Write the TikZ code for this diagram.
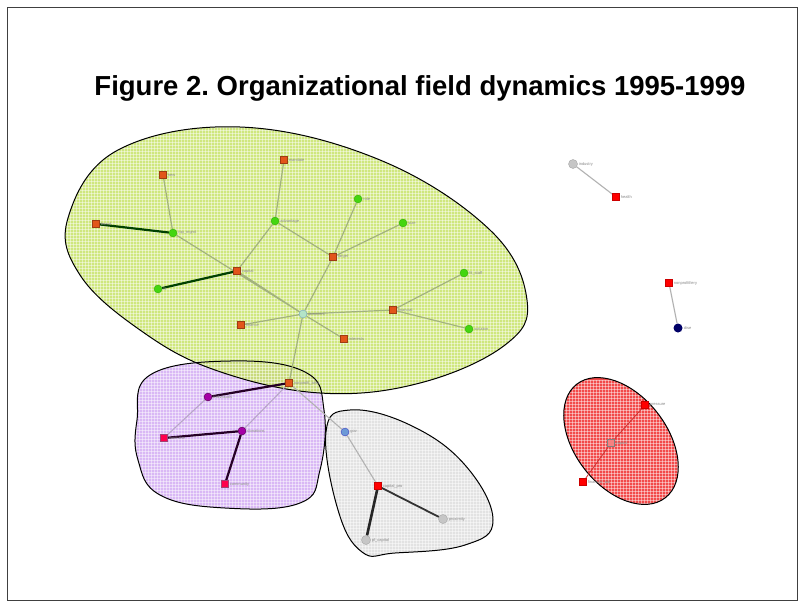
\documentclass[tikz,border=0pt]{standalone}
\usepackage{fontspec}
\setmainfont{Liberation Sans}
\definecolor{gfill}{HTML}{C4E25E}
\definecolor{pfill}{HTML}{D9B8F5}
\definecolor{grfill}{HTML}{E2E2E2}
\definecolor{rfill}{HTML}{F24A4A}
\definecolor{sqorange}{HTML}{E2551A}
\definecolor{nodegreen}{HTML}{44D610}
\definecolor{edgeg}{HTML}{A2B27E}
\definecolor{edgep}{HTML}{B8A6C8}
\definecolor{lblc}{HTML}{8A8A8A}
\pgfdeclarelayer{blobs}
\pgfdeclarelayer{edges}
\pgfsetlayers{blobs,edges,main}
\tikzset{
  blob/.style={draw=black, line width=1pt},
  gridlines/.style={draw=white, line width=0.5pt, opacity=0.45},
  sq/.style={rectangle, draw=sqorange!70!black, fill=sqorange, minimum size=7pt, inner sep=0pt},
  rsq/.style={rectangle, draw=red!80!black, fill=red, minimum size=7pt, inner sep=0pt},
  psq/.style={rectangle, draw=magenta!60!black, fill=red!70!magenta, minimum size=7pt, inner sep=0pt},
  hsq/.style={rectangle, draw=gray, fill=rfill!70!white, minimum size=7pt, inner sep=0pt},
  gc/.style={circle, fill=nodegreen, draw=nodegreen!80!black, minimum size=8pt, inner sep=0pt},
  cc/.style={circle, fill=cyan!25!green!30, draw=cyan!40!gray, minimum size=8pt, inner sep=0pt},
  pc/.style={circle, fill=violet!70!magenta, draw=violet!60!black, minimum size=8pt, inner sep=0pt},
  bc/.style={circle, fill=cyan!50!blue!60, draw=blue!50!gray, minimum size=8pt, inner sep=0pt},
  grc/.style={circle, fill=gray!45, draw=gray!70, minimum size=9pt, inner sep=0pt},
  dbc/.style={circle, fill=blue!40!black, minimum size=9pt, inner sep=0pt},
  lbl/.style={font=\fontsize{4}{4}\selectfont, text=lblc, inner sep=1pt},
  eg/.style={draw=edgeg, line width=1.2pt},
  egk/.style={draw=black!75!green, line width=2.2pt},
  ep/.style={draw=edgep, line width=1.1pt},
  epk/.style={draw=violet!30!black, line width=2.2pt},
  egr/.style={draw=gray!60, line width=1.1pt},
  egrk/.style={draw=black!85, line width=2.6pt},
}
\def\greenblob{plot[smooth cycle, tension=0.65] coordinates {(68,218) (118,150) (240,127) (380,160) (490,230) (527,300) (505,345) (420,383) (320,393) (215,370) (140,330) (80,275)}}
\def\purpleblob{plot[smooth cycle, tension=0.7] coordinates {(137,420) (150,375) (230,361) (305,372) (324,410) (320,470) (300,503) (225,508) (160,495) (138,460)}}
\def\grayblob{plot[smooth cycle, tension=0.7] coordinates {(326,432) (350,410) (410,425) (465,465) (493,520) (465,545) (395,553) (362,552) (338,510)}}
\def\redblob{(621,441) ellipse [x radius=72, y radius=46, rotate=-52]}
\begin{document}
\frenchspacing
\begin{tikzpicture}[x=1pt,y=-1pt]
\useasboundingbox (0,0) rectangle (805,608);
\begin{pgfonlayer}{blobs}
\fill[white] (0,0) rectangle (805,608);
\draw[black!75, line width=1.6pt] (7.5,7.5) rectangle (797.5,600.5);
% blob fills
\fill[pfill] \purpleblob;
\begin{scope}
\clip \purpleblob;
\foreach \i in {130,133,...,330} {\draw[gridlines] (\i,355) -- (\i,512);}
\foreach \j in {355,358,...,512} {\draw[gridlines] (130,\j) -- (330,\j);}
\end{scope}
\fill[grfill] \grayblob;
\begin{scope}
\clip \grayblob;
\foreach \i in {320,323,...,500} {\draw[gridlines] (\i,405) -- (\i,558);}
\foreach \j in {405,408,...,558} {\draw[gridlines] (320,\j) -- (500,\j);}
\end{scope}
\fill[gfill, fill opacity=0.8] \greenblob;
\begin{scope}
\clip \greenblob;
\foreach \i in {64,67,...,532} {\draw[gridlines] (\i,124) -- (\i,397);}
\foreach \j in {124,127,...,397} {\draw[gridlines] (64,\j) -- (532,\j);}
\end{scope}
\fill[rfill] \redblob;
\begin{scope}
\clip \redblob;
\foreach \i in {560,563,...,685} {\draw[gridlines] (\i,380) -- (\i,505);}
\foreach \j in {380,383,...,505} {\draw[gridlines] (560,\j) -- (685,\j);}
\end{scope}
% blob outlines
\draw[blob] \purpleblob;
\draw[blob] \grayblob;
\draw[blob] \greenblob;
\draw[blob] \redblob;
\end{pgfonlayer}

\node[font=\bfseries\fontsize{27.5}{30}\selectfont] (title) at (420,88) {Figure 2. Organizational field dynamics 1995-1999};

% nodes: green cluster
\node[sq, label={[lbl]right:new}] (new) at (163,175) {};
\node[sq, label={[lbl]right:mandate}] (mandate) at (284,160) {};
\node[sq, label={[lbl]right:board}] (board) at (96,224) {};
\node[gc, label={[lbl]right:top\_mgmt}] (topm) at (173,233) {};
\node[gc, label={[lbl]right:advantage}] (adv) at (275,221) {};
\node[gc, label={[lbl]right:role}] (role) at (358,199) {};
\node[gc, label={[lbl]right:size}] (size) at (403,223) {};
\node[sq, label={[lbl]right:target}] (target) at (333,257) {};
\node[sq, label={[lbl]right:capital}] (capital) at (237,271) {};
\node[gc, label={[lbl]right:fit}] (fit) at (158,289) {};
\node[gc, label={[lbl]right:fit\_staff}] (fitstaff) at (464,273) {};
\node[sq, label={[lbl]right:financial}] (financial) at (393,310) {};
\node[gc, label={[lbl]right:solution}] (solution) at (469,329) {};
\node[cc, label={[lbl]right:dominant}] (dominant) at (303,314) {};
\node[sq, label={[lbl]right:finance}] (finance) at (241,325) {};
\node[sq, label={[lbl]right:interests}] (interests) at (344,339) {};
\node[sq, label={[lbl]right:nonprofit\_sect}] (bridge) at (289,383) {};
% purple cluster
\node[pc, label={[lbl]right:individuals}] (indiv) at (208,397) {};
\node[pc, label={[lbl]right:donations}] (donors) at (242,431) {};
\node[psq, label={[lbl]right:fundraise}] (fund) at (164,438) {};
\node[psq, label={[lbl]right:community}] (comm) at (225,484) {};
% gray cluster
\node[bc, label={[lbl]right:gov}] (gov) at (345,432) {};
\node[rsq, label={[lbl]right:capital\_pro}] (cappro) at (378,486) {};
\node[grc, label={[lbl]right:proximity}] (prox) at (443,519) {};
\node[grc, label={[lbl]right:pf\_capital}] (pfcap) at (366,540) {};
% right side
\node[grc, label={[lbl]right:industry}] (industry) at (573,164) {};
\node[rsq, label={[lbl]right:health}] (health) at (616,197) {};
\node[rsq, label={[lbl]right:nonprofitfiery}] (npf) at (669,283) {};
\node[dbc, label={[lbl]right:dise}] (dise) at (678,328) {};
\node[rsq, label={[lbl]right:pressure}] (pressure) at (645,405) {};
\node[hsq, label={[lbl]right:capital}] (cap2) at (611,443) {};
\node[rsq, label={[lbl]right:financial\_aid}] (finaid) at (583,482) {};

% edges
\begin{pgfonlayer}{edges}
\path[eg] (new) -- (topm) (topm) -- (dominant) (mandate) -- (adv) (adv) -- (capital) (adv) -- (target)
  (capital) -- (dominant) (role) -- (target) (size) -- (target) (target) -- (dominant)
  (dominant) -- (financial) (financial) -- (fitstaff) (financial) -- (solution)
  (dominant) -- (finance) (dominant) -- (interests) (dominant) -- (bridge);
\path[egk] (board) -- (topm) (capital) -- (fit);
\path[ep] (bridge) -- (donors) (indiv) -- (fund);
\path[epk] (bridge) -- (indiv) (fund) -- (donors) (donors) -- (comm);
\path[egr] (bridge) -- (gov) (gov) -- (cappro) (industry) -- (health) (npf) -- (dise);
\path[egrk] (cappro) -- (pfcap);
\path[draw=black!80, line width=1.8pt] (cappro) -- (prox);
\path[draw=red!60!gray, line width=0.8pt] (pressure) -- (cap2) (cap2) -- (finaid);
\end{pgfonlayer}
\end{tikzpicture}
\end{document}
